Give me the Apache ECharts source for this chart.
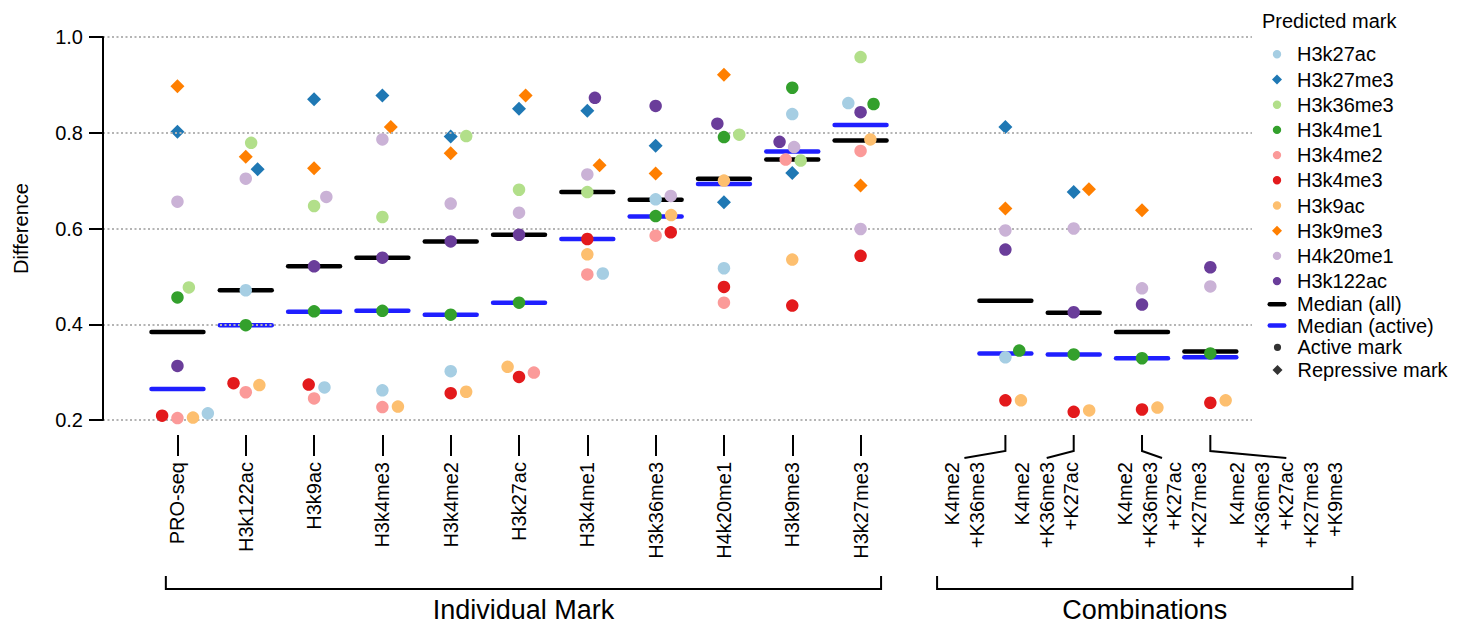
<!DOCTYPE html>
<html>
<head>
<meta charset="utf-8">
<title>Difference by training mark</title>
<script src="https://cdn.jsdelivr.net/npm/echarts@6/dist/echarts.min.js"></script>
<style>
  html, body { margin: 0; padding: 0; background: #ffffff; }
  #chart { width: 1457px; height: 625px; }
</style>
</head>
<body>
<div id="chart"></div>
<script>
// ---- Data -------------------------------------------------------------
// Input columns: single marks, then combinations of marks.
const individualLabels = ['PRO-seq', 'H3k122ac', 'H3k9ac', 'H3k4me3', 'H3k4me2', 'H3k27ac',
  'H3k4me1', 'H3k36me3', 'H4k20me1', 'H3k9me3', 'H3k27me3'];
const comboLabels = ['K4me2\n+K36me3', 'K4me2\n+K36me3\n+K27ac',
  'K4me2\n+K36me3\n+K27ac\n+K27me3', 'K4me2\n+K36me3\n+K27ac\n+K27me3\n+K9me3'];
const individualPositions = [0, 1, 2, 3, 4, 5, 6, 7, 8, 9, 10];
const comboPositions = [12.12, 13.12, 14.12, 15.12];

// Difference of each predicted mark, one entry per column (null = not predicted)
const h3k27ac  = [0.214, 0.471, 0.268, 0.262, 0.302, null, 0.506, 0.661, 0.517, 0.839, 0.862, 0.331, null, null, null];
const h3k27me3 = [0.802, 0.724, 0.870, 0.878, 0.792, 0.850, 0.846, 0.773, 0.655, 0.716, null, 0.812, 0.676, null, null];
const h3k36me3 = [0.477, 0.779, 0.647, 0.624, 0.793, 0.681, 0.676, null, 0.796, 0.742, 0.958, null, null, null, null];
const h3k4me1  = [0.456, 0.398, 0.427, 0.428, 0.420, 0.445, null, 0.626, 0.791, 0.894, 0.860, 0.345, 0.337, 0.329, 0.339];
const h3k4me2  = [0.204, 0.258, 0.245, 0.227, null, 0.299, 0.504, 0.585, 0.445, 0.744, 0.762, null, null, null, null];
const h3k4me3  = [0.209, 0.277, 0.274, null, 0.256, 0.290, 0.578, 0.592, 0.478, 0.439, 0.543, 0.241, 0.217, 0.222, 0.236];
const h3k9ac   = [0.205, 0.273, null, 0.228, 0.259, 0.311, 0.546, 0.628, 0.700, 0.535, 0.786, 0.241, 0.220, 0.226, 0.241];
const h3k9me3  = [0.897, 0.750, 0.726, 0.812, 0.757, 0.878, 0.732, 0.715, 0.921, null, 0.690, 0.642, 0.682, 0.638, null];
const h4k20me1 = [0.656, 0.704, 0.666, 0.786, 0.652, 0.633, 0.713, 0.668, null, 0.770, 0.599, 0.596, 0.600, 0.475, 0.479];
const h3k122ac = [0.313, null, 0.521, 0.539, 0.573, 0.587, 0.873, 0.856, 0.819, 0.781, 0.843, 0.556, 0.425, 0.441, 0.519];

// Medians per column
const medianAll    = [0.384, 0.471, 0.521, 0.539, 0.573, 0.587, 0.676, 0.660, 0.704, 0.744, 0.784, 0.449, 0.424, 0.384, 0.343];
const medianActive = [0.265, 0.398, 0.426, 0.428, 0.420, 0.445, 0.578, 0.625, 0.693, 0.761, 0.816, 0.339, 0.337, 0.329, 0.331];

const yTicks = [0.2, 0.4, 0.6, 0.8, 1.0];

// ---- Styling -----------------------------------------------------------
const FONT = '"Liberation Sans", Arial, Helvetica, sans-serif';
const columnPositions = individualPositions.concat(comboPositions);
const marks = [
  { name: 'H3k27ac',  values: h3k27ac,  color: '#a6cee3', repressive: false },
  { name: 'H3k27me3', values: h3k27me3, color: '#1f78b4', repressive: true  },
  { name: 'H3k36me3', values: h3k36me3, color: '#b2df8a', repressive: false },
  { name: 'H3k4me1',  values: h3k4me1,  color: '#33a02c', repressive: false },
  { name: 'H3k4me2',  values: h3k4me2,  color: '#fb9a99', repressive: false },
  { name: 'H3k4me3',  values: h3k4me3,  color: '#e31a1c', repressive: false },
  { name: 'H3k9ac',   values: h3k9ac,   color: '#fdbf6f', repressive: false },
  { name: 'H3k9me3',  values: h3k9me3,  color: '#ff7f00', repressive: true  },
  { name: 'H4k20me1', values: h4k20me1, color: '#cab2d6', repressive: false },
  { name: 'H3k122ac', values: h3k122ac, color: '#6a3d9a', repressive: false }
];
const MEDIAN_HALF = 0.38;        // half length of a median bar, in column units
const SWARM_D = 14.8;            // collision diameter of swarm points, px
const comboLabelShift = [-41, -27, 20, 76];  // label block centre relative to its tick, px

const chart = echarts.init(document.getElementById('chart'), null, { renderer: 'svg' });

const xAxis = {
  type: 'value', min: -1.09, max: 15.73, offset: 15, z: 3,
  axisLine: { show: false, onZero: false },
  splitLine: { show: false },
  axisTick: { show: true, customValues: individualPositions, length: 21,
    lineStyle: { color: '#000', width: 2 } },
  axisLabel: { show: true, customValues: individualPositions, rotate: 90, margin: 27,
    fontFamily: FONT, fontSize: 20, color: '#000',
    formatter: v => individualLabels[Math.round(v)] }
};
const yAxis = {
  type: 'value', min: 0.2, max: 1.0, interval: 0.2, z: 3,
  name: 'Difference', nameLocation: 'middle', nameRotate: 90, nameGap: 72,
  nameTextStyle: { fontFamily: FONT, fontSize: 20, color: '#000' },
  axisLine: { show: true, onZero: false, lineStyle: { color: '#000', width: 2 } },
  axisTick: { show: true, length: 14, lineStyle: { color: '#000', width: 2 } },
  axisLabel: { margin: 20, fontFamily: FONT, fontSize: 20, color: '#000',
    formatter: v => yTicks.some(t => Math.abs(t - v) < 1e-9) ? v.toFixed(1) : '' },
  splitLine: { show: true, lineStyle: { color: '#b4b4b4', width: 2, type: [2, 2.5] } }
};
const grid = { left: 103, right: 205, top: 37, bottom: 205 };

// First pass: axes only, so the scales can be queried for the swarm layout.
chart.setOption({ animation: false, grid, xAxis, yAxis, series: [] });

const toPix = (x, v) => chart.convertToPixel({ gridIndex: 0 }, [x, v]);
const pxPerUnit = toPix(1, 0.5)[0] - toPix(0, 0.5)[0];

// Beeswarm: points of a column placed from low to high value, each at the
// free position nearest the column centre.
const offsets = marks.map(() => new Array(columnPositions.length).fill(0));
columnPositions.forEach((cx, ci) => {
  const pts = [];
  marks.forEach((m, mi) => {
    const v = m.values[ci];
    if (v !== null && v !== undefined) pts.push({ mi, py: toPix(cx, v)[1] });
  });
  const order = pts.slice().sort((a, b) => b.py - a.py);
  const placed = [];
  const D2 = SWARM_D * SWARM_D;
  for (const p of order) {
    const near = placed.filter(q => Math.abs(q.py - p.py) < SWARM_D);
    const cands = [0];
    for (let k = near.length - 1; k >= 0; k--) {
      const q = near[k];
      const dx = Math.sqrt(Math.max(D2 - (p.py - q.py) ** 2, 0)) * 1.05;
      cands.push(q.dx + dx, q.dx - dx);
    }
    cands.sort((a, b) => {
      const d = Math.abs(a) - Math.abs(b);
      return Math.abs(d) > 1e-9 ? d : b - a;
    });
    let chosen = cands[cands.length - 1];
    for (const c of cands) {
      if (near.every(q => (c - q.dx) ** 2 + (p.py - q.py) ** 2 >= D2 - 1e-6)) { chosen = c; break; }
    }
    p.dx = chosen;
    placed.push(p);
    offsets[p.mi][ci] = chosen / pxPerUnit;
  }
});

function medianSeries(name, values, color) {
  return {
    name, type: 'custom', z: 1, silent: true, clip: false,
    itemStyle: { color },
    encode: { x: 0, y: 1 },
    data: columnPositions.map((x, i) => [x, values[i]]),
    renderItem: (params, api) => {
      const x = api.value(0), v = api.value(1);
      const a = api.coord([x - MEDIAN_HALF, v]);
      const b = api.coord([x + MEDIAN_HALF, v]);
      return { type: 'line', shape: { x1: a[0], y1: a[1], x2: b[0], y2: b[1] },
        style: { stroke: color, lineWidth: 4.5, lineCap: 'round' } };
    }
  };
}

const markSeries = marks.map((m, mi) => ({
  name: m.name, type: 'scatter',
  symbol: m.repressive ? 'diamond' : 'circle',
  symbolSize: m.repressive ? 14 : 12.5,
  z: m.repressive ? 1 : 5,
  silent: true,
  itemStyle: { color: m.color, opacity: 1 },
  data: columnPositions
    .map((x, ci) => m.values[ci] === null ? null : [x + offsets[mi][ci], m.values[ci]])
    .filter(d => d !== null)
}));

// Combination ticks, offset labels with connectors, group brackets and titles
const annotationSeries = {
  name: 'annotations', type: 'custom', z: 5, silent: true, clip: false,
  data: [[0, 0.2]],
  renderItem: (params, api) => {
    const yb = api.coord([0, 0.2])[1];
    const children = [];
    comboPositions.forEach((cx, i) => {
      const x = api.coord([cx, 0.2])[0];
      const lx = x + comboLabelShift[i];
      children.push({ type: 'polyline',
        shape: { points: [[x, yb + 15], [x, yb + 31], [lx, yb + 38]] },
        style: { stroke: '#000', lineWidth: 2, fill: null } });
      children.push({ type: 'text', x: lx, y: yb + 42, rotation: Math.PI / 2,
        style: { text: comboLabels[i], fontFamily: FONT, fontSize: 20, fill: '#000',
          align: 'right', verticalAlign: 'middle', lineHeight: 24.5 } });
    });
    const groups = [
      { from: individualPositions[0] - 0.17, to: individualPositions[individualPositions.length - 1] + 0.30, title: 'Individual Mark' },
      { from: comboPositions[0] - 1.0, to: comboPositions[comboPositions.length - 1] + 2.08, title: 'Combinations' }
    ];
    groups.forEach(g => {
      const x1 = api.coord([g.from, 0.2])[0];
      const x2 = api.coord([g.to, 0.2])[0];
      children.push({ type: 'polyline',
        shape: { points: [[x1, yb + 156], [x1, yb + 169], [x2, yb + 169], [x2, yb + 156]] },
        style: { stroke: '#000', lineWidth: 2, fill: null } });
      children.push({ type: 'text', x: (x1 + x2) / 2, y: yb + 190,
        style: { text: g.title, fontFamily: FONT, fontSize: 27, fill: '#000',
          align: 'center', verticalAlign: 'middle' } });
    });
    return { type: 'group', children };
  }
};

// Legend icons; the leading moves pin the icon box so shapes keep their proportions
const legendText = { fontFamily: FONT, fontSize: 20, color: '#000', lineHeight: 20 };
const lineIcon = 'path://M2.25,0L16.75,0A2.25,2.25,0,0,1,16.75,4.5L2.25,4.5A2.25,2.25,0,0,1,2.25,0Z';
const diamondIcon = 'path://M0,0M30,10M15,0L20,5L15,10L10,5Z';
const circleIcon = 'path://M0,0M30,10M19.2,5A4.2,4.2,0,1,1,10.8,5A4.2,4.2,0,1,1,19.2,5Z';
const dotIcon = 'path://M0,0M30,10M18.6,5A3.6,3.6,0,1,1,11.4,5A3.6,3.6,0,1,1,18.6,5Z';

chart.setOption({
  animation: false,
  grid, xAxis, yAxis,
  title: { text: 'Predicted mark', left: 1262, top: 11, padding: 0,
    textStyle: { fontFamily: FONT, fontSize: 20, fontWeight: 'normal', color: '#000' } },
  legend: [
    { orient: 'vertical', left: 1262, top: 44.3, padding: 0, itemWidth: 30, itemHeight: 10, itemGap: 5.2,
      selectedMode: false, textStyle: legendText,
      data: marks.map(m => ({ name: m.name, icon: m.repressive ? diamondIcon : circleIcon })) },
    { orient: 'vertical', left: 1267.5, top: 294.3, padding: 0, itemWidth: 19, itemHeight: 4.5, itemGap: 1.2,
      selectedMode: false, textStyle: legendText, formatter: n => ' ' + n,
      data: [{ name: 'Median (all)', icon: lineIcon }, { name: 'Median (active)', icon: lineIcon }] },
    { orient: 'vertical', left: 1262.5, top: 337.3, padding: 0, itemWidth: 30, itemHeight: 10, itemGap: 2.7,
      selectedMode: false, textStyle: legendText,
      data: [{ name: 'Active mark', icon: dotIcon }, { name: 'Repressive mark', icon: diamondIcon }] }
  ],
  series: [
    medianSeries('Median (active)', medianActive, '#1f1fff'),
    medianSeries('Median (all)', medianAll, '#000000'),
    ...markSeries,
    { name: 'Active mark', type: 'scatter', symbol: 'circle', itemStyle: { color: '#000' }, data: [] },
    { name: 'Repressive mark', type: 'scatter', symbol: 'diamond', itemStyle: { color: '#000' }, data: [] },
    annotationSeries
  ]
}, true);
</script>
</body>
</html>
